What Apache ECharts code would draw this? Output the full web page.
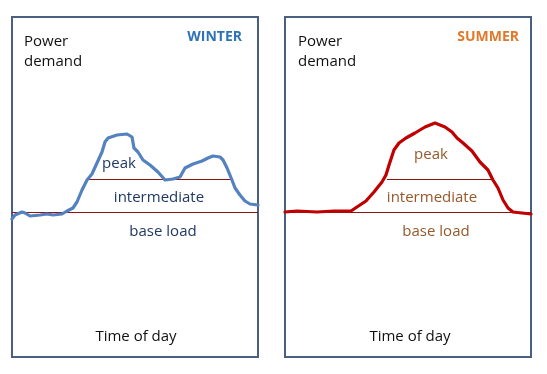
<!DOCTYPE html>
<html><head><meta charset="utf-8">
<script src="https://cdn.jsdelivr.net/npm/echarts@6/dist/echarts.min.js"></script>
<style>html,body{margin:0;padding:0;background:#fff}#c{width:547px;height:374px}</style>
</head><body><div id="c"></div>
<script>
// Time of day in hours (0-24), demand in arbitrary units
const winterHours = [0,0.29,0.98,1.27,1.76,2.73,3.41,4.0,4.88,5.37,5.95,6.34,6.83,7.32,7.8,8.29,8.78,9.07,9.37,10.24,11.22,11.71,11.9,12.29,12.78,13.46,14.24,14.93,15.71,16.39,16.88,17.66,18.54,19.12,19.61,20.29,20.59,20.98,21.46,21.76,22.24,22.73,23.22,24];
const winterDemand = [13.8,14.2,14.5,14.4,14.1,14.2,14.3,14.2,14.3,14.6,14.9,15.5,16.7,17.7,18.3,19.4,20.5,21.5,21.9,22.2,22.3,22.0,20.9,20.5,19.7,19.2,18.5,17.7,17.8,18.0,18.9,19.3,19.6,19.9,20.1,20.0,19.7,18.9,17.7,16.9,16.2,15.6,15.3,15.2];
const summerHours = [0,1.17,3.12,4.78,6.44,7.02,7.9,8.68,9.46,9.85,10.15,10.63,11.12,11.8,12.68,13.66,14.63,15.61,16.29,16.78,17.37,18.24,19.02,19.8,20.29,20.78,21.27,21.76,22.24,23.12,24];
const summerDemand = [14.5,14.6,14.5,14.6,14.6,15.0,15.6,16.5,17.5,18.2,19.2,20.7,21.4,21.9,22.4,23.0,23.4,23.0,22.5,21.9,21.4,20.6,19.5,18.7,17.7,16.9,15.7,14.9,14.5,14.4,14.3];
const baseLevel = 14.45;
const winterPeakLevel = 17.75, winterPeakSpan = [7.22, 21.37];
const summerPeakLevel = 17.75, summerPeakSpan = [9.95, 20.1];
const bandLabels = ['peak','intermediate','base load'];
const panelTitles = ['WINTER','SUMMER'];

const zip = (a,b) => a.map((v,i)=>[v,b[i]]);
const FONT = 'Open Sans';
const chart = echarts.init(document.getElementById('c'), null, {renderer:'canvas'});

const gridCommon = {top:17, height:340, width:246, show:true, borderColor:'#4A5F82', borderWidth:2, backgroundColor:'transparent'};
const ax = (i, type) => ({gridIndex:i, type:'value', min:0, max: type==='x'?24:34, show:false});

function txt(x, y, text, color, opts={}) {
  return {type:'text', x, y, style:{text, fill:color, font:(opts.weight||'normal')+' '+(opts.size||15)+'px "'+FONT+'"', textAlign:opts.align||'left', textVerticalAlign:'middle'}};
}

const thr = '#8E1414';
chart.setOption({
  animation:false,
  grid:[Object.assign({left:12}, gridCommon), Object.assign({left:285}, gridCommon)],
  xAxis:[ax(0,'x'), ax(1,'x')],
  yAxis:[ax(0,'y'), ax(1,'y')],
  series:[
    {type:'line', xAxisIndex:0, yAxisIndex:0, data:[[0,baseLevel],[24,baseLevel]], symbol:'none', lineStyle:{color:thr, width:1}, silent:true},
    {type:'line', xAxisIndex:0, yAxisIndex:0, data:[[winterPeakSpan[0],winterPeakLevel],[winterPeakSpan[1],winterPeakLevel]], symbol:'none', lineStyle:{color:thr, width:1}},
    {type:'line', xAxisIndex:0, yAxisIndex:0, data:zip(winterHours,winterDemand), symbol:'none', lineStyle:{color:'#5482BE', width:3.2, join:'round', cap:'round'}},
    {type:'line', xAxisIndex:1, yAxisIndex:1, data:[[0,baseLevel],[24,baseLevel]], symbol:'none', lineStyle:{color:thr, width:1}},
    {type:'line', xAxisIndex:1, yAxisIndex:1, data:[[summerPeakSpan[0],summerPeakLevel],[summerPeakSpan[1],summerPeakLevel]], symbol:'none', lineStyle:{color:thr, width:1}},
    {type:'line', xAxisIndex:1, yAxisIndex:1, data:zip(summerHours,summerDemand), symbol:'none', lineStyle:{color:'#C00000', width:3.2, join:'round', cap:'round'}}
  ],
  graphic:[
    txt(24, 42, 'Power', '#111'),
    txt(24, 62, 'demand', '#111'),
    txt(242, 37, panelTitles[0], '#2E74B5', {weight:'bold', size:14, align:'right'}),
    txt(119, 164, bandLabels[0], '#1F3864', {align:'center'}),
    txt(159, 198, bandLabels[1], '#1F3864', {align:'center'}),
    txt(163, 232, bandLabels[2], '#1F3864', {align:'center'}),
    txt(136, 337, 'Time of day', '#111', {align:'center'}),
    txt(298, 42, 'Power', '#111'),
    txt(298, 62, 'demand', '#111'),
    txt(519, 37, panelTitles[1], '#E1792B', {weight:'bold', size:14, align:'right'}),
    txt(431, 155, bandLabels[0], '#97582A', {align:'center'}),
    txt(432, 198, bandLabels[1], '#97582A', {align:'center'}),
    txt(436, 232, bandLabels[2], '#97582A', {align:'center'}),
    txt(410, 337, 'Time of day', '#111', {align:'center'})
  ]
});
</script></body></html>
